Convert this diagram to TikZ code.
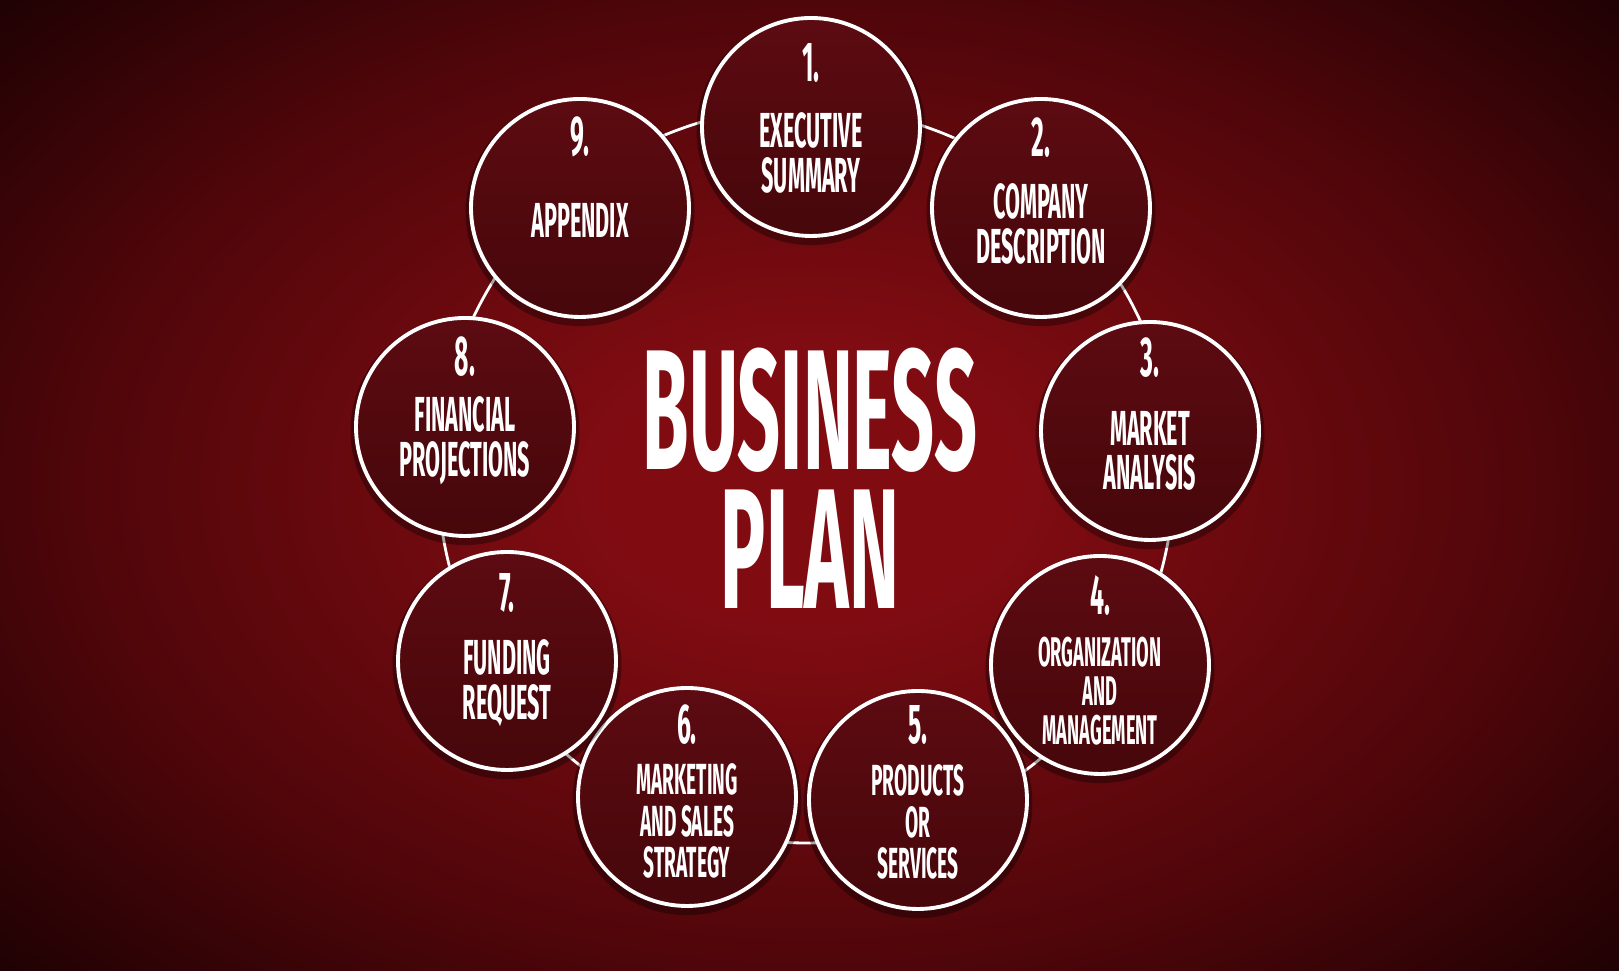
\documentclass[tikz,border=0pt]{standalone}
\usepackage{fontspec}
\usepackage{xcolor}
\usetikzlibrary{shadows}

\IfFontExistsTF{Fira Sans Heavy}
  {\newfontfamily\headfont{Fira Sans Heavy}[FakeStretch=0.42]}
  {\newfontfamily\headfont{Fira Sans Bold}[FakeStretch=0.44]}

\definecolor{bgmid}{RGB}{128,12,18}
\definecolor{bgouter}{RGB}{80,6,10}
\definecolor{bgcorner}{RGB}{26,1,3}
\definecolor{circtop}{RGB}{92,11,17}
\definecolor{circbot}{RGB}{70,7,11}

\pgfdeclareradialshading{vignette}{\pgfpoint{0bp}{0bp}}{%
  color(0bp)=(bgmid); color(6bp)=(bgmid); color(21bp)=(bgouter);
  color(33bp)=(bgcorner); color(50bp)=(bgcorner)}

\tikzset{
  topic/.style={circle, draw=white, line width=1.1pt, minimum size=2.18cm,
    inner sep=0pt, top color=circtop, bottom color=circbot,
    drop shadow={shadow xshift=0pt, shadow yshift=-1pt, shadow scale=1.05,
      opacity=0.35, fill=black}},
  numtext/.style={text=white, inner sep=0pt,
    font=\headfont\fontsize{16}{16}\selectfont},
  labeltext/.style={text=white, inner sep=0pt, align=center,
    font=\headfont\fontsize{14}{12.7}\selectfont},
  smalllabel/.style={labeltext, font=\headfont\fontsize{12.4}{11.7}\selectfont},
  tinylabel/.style={labeltext, font=\headfont\fontsize{11.8}{11}\selectfont},
  titletext/.style={text=white, inner sep=0pt, anchor=base,
    font=\headfont\fontsize{48.7}{48.7}\selectfont},
  ring/.style={draw=white, line width=0.8pt}
}

\begin{document}
\begin{tikzpicture}
  \useasboundingbox (0,0) rectangle (16.19,9.71);

  % background
  \begin{scope}
    \clip (0,0) rectangle (16.19,9.71);
    \shade[shading=vignette] (-0.5,-0.8) rectangle (16.69,10.51);
  \end{scope}

  % ring behind the topics
  \coordinate (ringc) at (8.06,4.96);
  \draw[ring] (ringc) circle (3.68);

  % topics
  \node[topic] (c1) at (8.11,8.44) {};
  \node[topic] (c2) at (10.41,7.63) {};
  \node[topic] (c3) at (11.50,5.40) {};
  \node[topic] (c4) at (11.00,3.06) {};
  \node[topic] (c5) at (9.18,1.71) {};
  \node[topic] (c6) at (6.87,1.74) {};
  \node[topic] (c7) at (5.07,3.10) {};
  \node[topic] (c8) at (4.65,5.44) {};
  \node[topic] (c9) at (5.80,7.63) {};

  % numbers
  \node[numtext] (n1) at ([yshift=6.4mm]c1.center) {1.};
  \node[numtext] (n2) at ([yshift=7.0mm]c2.center) {2.};
  \node[numtext] (n3) at ([yshift=7.3mm]c3.center) {3.};
  \node[numtext] (n4) at ([yshift=6.9mm]c4.center) {4.};
  \node[numtext] (n5) at ([yshift=7.5mm]c5.center) {5.};
  \node[numtext] (n6) at ([yshift=7.2mm]c6.center) {6.};
  \node[numtext] (n7) at ([yshift=6.8mm]c7.center) {7.};
  \node[numtext] (n8) at ([yshift=7.0mm]c8.center) {8.};
  \node[numtext] (n9) at ([yshift=7.1mm]c9.center) {9.};

  % labels
  \node[labeltext] (t1) at ([yshift=-2.6mm]c1.center) {EXECUTIVE\\SUMMARY};
  \node[labeltext] (t2) at ([yshift=-1.6mm]c2.center) {COMPANY\\DESCRIPTION};
  \node[labeltext] (t3) at ([yshift=-2.0mm]c3.center) {MARKET\\ANALYSIS};
  \node[tinylabel] (t4) at ([yshift=-2.6mm]c4.center) {ORGANIZATION\\AND\\MANAGEMENT};
  \node[smalllabel] (t5) at ([yshift=-2.2mm]c5.center) {PRODUCTS\\OR\\SERVICES};
  \node[smalllabel] (t6) at ([yshift=-2.4mm]c6.center) {MARKETING\\AND SALES\\STRATEGY};
  \node[labeltext] (t7) at ([yshift=-2.2mm]c7.center) {FUNDING\\REQUEST};
  \node[labeltext] (t8) at ([yshift=-1.4mm]c8.center) {FINANCIAL\\PROJECTIONS};
  \node[labeltext] (t9) at ([yshift=-1.2mm]c9.center) {APPENDIX};

  % title
  \node[titletext] (title1) at (8.10,5.01) {BUSINESS};
  \node[titletext] (title2) at (8.10,3.62) {PLAN};
\end{tikzpicture}
\end{document}
